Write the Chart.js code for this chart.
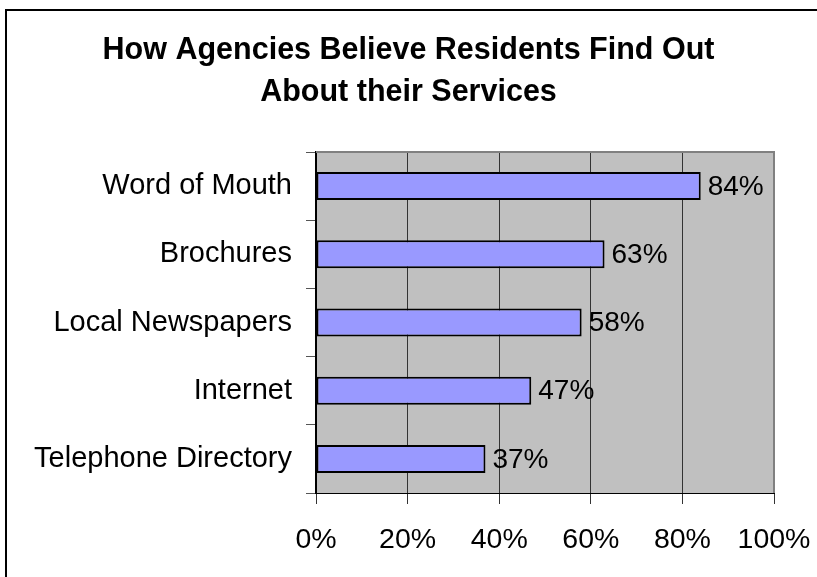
<!DOCTYPE html>
<html>
<head>
<meta charset="utf-8">
<title>How Agencies Believe Residents Find Out About their Services</title>
<script src="https://cdn.jsdelivr.net/npm/chart.js@4.4.1/dist/chart.umd.min.js"></script>
<style>
  html, body { margin: 0; padding: 0; background: #fff; overflow: hidden; }
  #chart_box { position: relative; width: 817px; height: 577px; }
</style>
</head>
<body>
<div id="chart_box"><canvas id="barChart" width="817" height="577"></canvas></div>
<script>
"use strict";
const titleLines = ["How Agencies Believe Residents Find Out", "About their Services"];
const sources = ["Word of Mouth", "Brochures", "Local Newspapers", "Internet", "Telephone Directory"];
const percentages = [84, 63, 58, 47, 37];
const percentTicks = [0, 20, 40, 60, 80, 100];

const fontFamily = '"Liberation Sans", Arial, Helvetica, sans-serif';
Chart.defaults.font.family = fontFamily;
Chart.defaults.color = "#000";

// gray plot area plus the page frame
const plotBackground = {
  id: "plotBackground",
  afterLayout(chart) {
    // center the title over the whole canvas, not just the padded box
    if (chart.titleBlock) {
      chart.titleBlock.left = 0;
      chart.titleBlock.right = chart.width;
      chart.titleBlock.width = chart.width;
    }
  },
  beforeDraw(chart) {
    const { ctx, chartArea } = chart;
    ctx.save();
    ctx.fillStyle = "#fff";
    ctx.fillRect(0, 0, chart.width, chart.height);
    ctx.strokeStyle = "#000";
    ctx.lineWidth = 2;
    ctx.strokeRect(6, 10, chart.width + 20, chart.height + 20);
    ctx.fillStyle = "#C0C0C0";
    ctx.fillRect(chartArea.left, chartArea.top, chartArea.right - chartArea.left, chartArea.bottom - chartArea.top);
    ctx.restore();
  },
};

// top and right edges of the plot area
const plotFrame = {
  id: "plotFrame",
  beforeDatasetsDraw(chart) {
    const { ctx, chartArea } = chart;
    ctx.save();
    ctx.strokeStyle = "#808080";
    ctx.lineWidth = 2;
    ctx.beginPath();
    ctx.moveTo(chartArea.left, chartArea.top);
    ctx.lineTo(chartArea.right, chartArea.top);
    ctx.lineTo(chartArea.right, chartArea.bottom);
    ctx.stroke();
    ctx.restore();
  },
};

const barValueLabels = {
  id: "barValueLabels",
  afterDatasetsDraw(chart) {
    const ctx = chart.ctx;
    const meta = chart.getDatasetMeta(0);
    ctx.save();
    ctx.font = "28px " + fontFamily;
    ctx.fillStyle = "#000";
    ctx.textAlign = "left";
    ctx.textBaseline = "middle";
    meta.data.forEach((bar, i) => {
      ctx.fillText(percentages[i] + "%", bar.x + 7, bar.y + 1);
    });
    ctx.restore();
  },
};

const ctx = document.getElementById("barChart");
const barChart = new Chart(ctx, {
  type: "bar",
  data: {
    labels: sources,
    datasets: [
      {
        data: percentages,
        backgroundColor: "#9999FF",
        borderColor: "#000",
        borderWidth: 2,
        borderSkipped: false,
        categoryPercentage: 1,
        barPercentage: 0.41,
      },
    ],
  },
  options: {
    indexAxis: "y",
    responsive: false,
    animation: false,
    devicePixelRatio: 1,
    layout: { padding: { left: 10, right: 43, top: 0, bottom: 0 } },
    scales: {
      x: {
        min: 0,
        max: 100,
        afterBuildTicks: (scale) => {
          scale.ticks = percentTicks.map((v) => ({ value: v }));
        },
        afterFit: (scale) => {
          scale.height = 84;
          // the end labels may run past the plot edge
          scale.paddingLeft = 0;
          scale.paddingRight = 0;
        },
        grid: {
          color: "#333",
          lineWidth: 1,
          drawOnChartArea: true,
          drawTicks: true,
          tickLength: 11,
          tickColor: "#333",
        },
        border: { display: true, color: "#000", width: 1 },
        ticks: {
          padding: 19,
          font: { size: 28.5 },
          color: "#000",
          maxRotation: 0,
          callback: (v) => v + "%",
        },
      },
      y: {
        afterFit: (scale) => {
          scale.width = 306;
        },
        grid: {
          offset: true,
          drawOnChartArea: false,
          drawTicks: true,
          tickLength: 10,
          color: "#555",
          tickColor: "#555",
        },
        border: { display: true, color: "#000", width: 2 },
        ticks: {
          padding: 14,
          font: { size: 29 },
          color: "#000",
        },
      },
    },
    plugins: {
      legend: { display: false },
      tooltip: { enabled: false },
      title: {
        display: true,
        text: titleLines,
        color: "#000",
        font: { size: 30.5, weight: "bold", lineHeight: 42 / 30.5 },
        padding: { top: 30, bottom: 38 },
      },
    },
  },
  plugins: [plotBackground, plotFrame, barValueLabels],
});
</script>
</body>
</html>
